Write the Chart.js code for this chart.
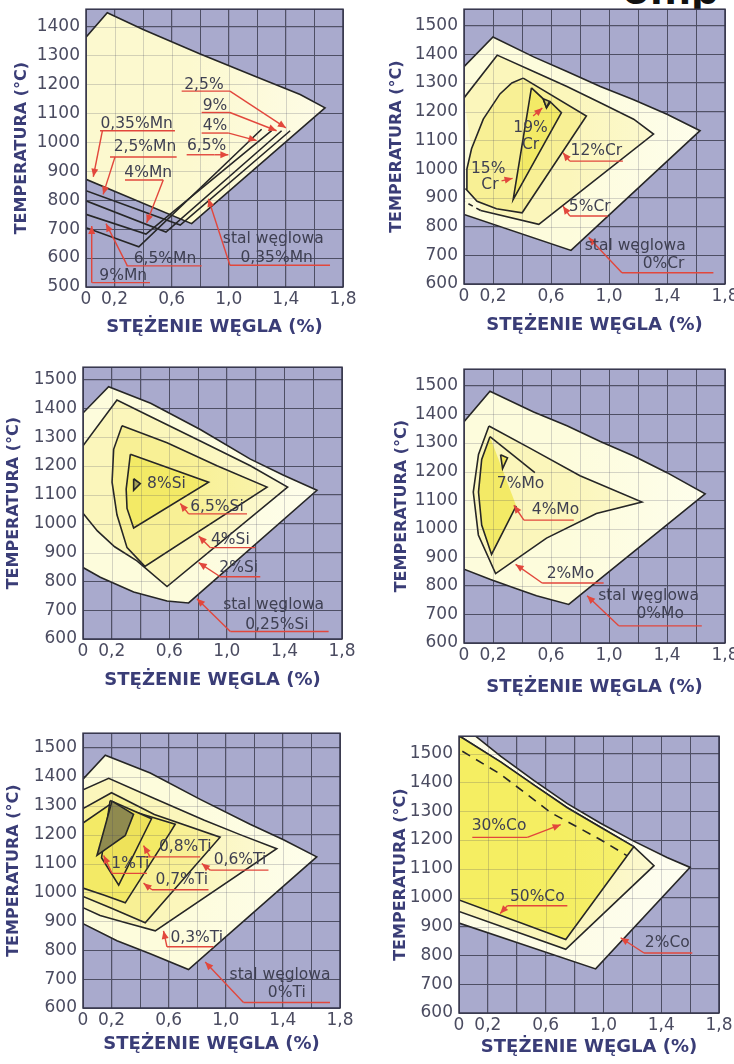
<!DOCTYPE html>
<html lang="pl">
<head>
<meta charset="utf-8">
<title>Wpływ pierwiastków stopowych na obszar austenitu</title>
<script src="https://cdn.jsdelivr.net/npm/chart.js@4.4.1/dist/chart.umd.min.js"></script>
<style>
  html, body { margin: 0; padding: 0; background: #fff; }
  #sheet { position: relative; width: 734px; height: 1064px; overflow: hidden; background: #fff; }
  #sheet canvas { position: absolute; }
  #heading {
    position: absolute; left: 622px; top: -38px; margin: 0;
    font: bold 46px "Liberation Sans", Arial, sans-serif; color: #111; line-height: 52px;
    white-space: nowrap;
  }
</style>
</head>
<body>
<div id="sheet"><p id="heading">omp</p></div>
<script>
// ---------- shared axes ----------
const carbonGrid = [0, 0.2, 0.4, 0.6, 0.8, 1.0, 1.2, 1.4, 1.6, 1.8];
const carbonTicks = [0, 0.2, 0.6, 1.0, 1.4, 1.8];

// ---------- manganese (C %, T °C) ----------
const mnSteel = [[0,1363],[0.149,1448],[0.4,1390],[0.8,1305],[1.2,1225],[1.5,1165],[1.674,1119],[0.74,719],[0,872]];
const mn25 = [[0,833],[0.66,714],[1.43,1040]];
const mn4  = [[0,798],[0.56,690],[1.37,1040]];
const mn65 = [[0,751],[0.42,683],[1.30,1040]];
const mn9  = [[0,705],[0.37,639],[1.23,1045]];

// ---------- chromium ----------
const crSteel = [[0,1357],[0.20,1460],[0.48,1391],[0.71,1340],[0.94,1288],[1.17,1242],[1.40,1191],[1.628,1134],[0.738,717],[0,842]];
const cr5  = [[0,1248],[0.229,1397],[0.48,1340],[0.71,1288],[0.94,1231],[1.17,1174],[1.307,1122],[0.516,808],[0.115,856],[0,888]];
const cr12 = [[0.408,1317],[0.844,1185],[0.401,848],[0.224,862],[0.09,888],[0.015,930],[0.02,1000],[0.052,1071],[0.133,1174],[0.248,1262],[0.33,1300]];
const cr15 = [[0.465,1283],[0.546,1245],[0.569,1214],[0.596,1234],[0.672,1197],[0.339,894]];
const cr19 = [[0.546,1245],[0.59,1236],[0.569,1214]];

// ---------- silicon ----------
const siSteel = [[0,1384],[0.178,1475],[0.47,1418],[0.815,1327],[1.163,1224],[1.394,1168],[1.626,1116],[0.734,725],[0.584,732],[0.352,763],[0.12,814],[0,848]];
const si2  = [[0,1270],[0.236,1429],[0.468,1372],[0.815,1287],[1.163,1201],[1.422,1127],[0.584,782],[0.375,871],[0.22,920],[0.10,975],[0,1036]];
const si4  = [[0.271,1340],[0.584,1281],[0.931,1201],[1.279,1127],[0.43,852],[0.306,917],[0.236,1031],[0.202,1144],[0.213,1258]];
const si65 = [[0.329,1241],[0.873,1144],[0.352,985],[0.306,1053],[0.30,1120],[0.317,1190]];
const si8  = [[0.352,1156],[0.398,1139],[0.352,1116]];

// ---------- molybdenum ----------
const moSteel = [[0,1374],[0.179,1481],[0.48,1408],[0.71,1360],[0.94,1305],[1.17,1254],[1.40,1196],[1.663,1122],[0.722,735],[0.50,765],[0.367,789],[0.183,822],[0,858]];
const mo2 = [[0.172,1359],[0.454,1282],[0.80,1185],[1.227,1093],[0.913,1053],[0.569,967],[0.218,843],[0.099,978],[0.064,1128],[0.10,1260]];
const mo4 = [[0.179,1322],[0.489,1196],[0.36,1080],[0.19,910],[0.122,1013],[0.10,1128],[0.122,1242]];
const mo7 = [[0.252,1259],[0.30,1248],[0.266,1210]];

// ---------- titanium ----------
const tiSteel = [[0,1392],[0.156,1475],[0.471,1413],[0.821,1322],[1.17,1236],[1.404,1182],[1.637,1123],[0.739,733],[0.471,788],[0.238,833],[0,892]];
const ti03 = [[0,1355],[0.18,1395],[0.5,1325],[0.85,1250],[1.1,1200],[1.357,1151],[0.506,867],[0.3,895],[0.12,920],[0,947]];
const ti06 = [[0,1290],[0.2,1345],[0.5,1270],[0.96,1191],[0.436,895],[0.2,945],[0,986]];
const ti07 = [[0,1240],[0.19,1305],[0.45,1265],[0.646,1236],[0.611,1208],[0.296,964],[0.15,990],[0,1015]];
const ti08 = [[0.19,1318],[0.48,1255],[0.25,1025],[0.13,1120]];
const ti1  = [[0.203,1316],[0.354,1270],[0.296,1197],[0.098,1128]];

// ---------- cobalt ----------
const coSteel  = [[0,1560],[0.115,1560],[0.29,1490],[0.52,1406],[0.75,1326],[0.98,1258],[1.21,1196],[1.44,1139],[1.60,1105],[0.946,753],[0,912]];
const coMid    = [[0,1560],[0.03,1552],[0.29,1470],[0.52,1390],[0.75,1312],[0.98,1244],[1.21,1177],[1.35,1111],[0.739,821],[0,952]];
const coYellow = [[0,1560],[0.03,1552],[0.29,1470],[0.52,1390],[0.75,1312],[0.98,1244],[1.21,1177],[0.739,855],[0,992]];
const co30     = [[0.023,1508],[0.288,1428],[0.635,1295],[0.98,1201],[1.165,1145]];

// ---------- styling ----------
const PLOT_BG = '#a9aacd';
const GRID = '#515266';
const EDGE = '#262626';
const RED = '#e2473c';
const INK = '#3f4052';
const TITLE = '#3a3d77';
const TICK = '#4a4b60';
const shade = ['#fdfcdc', '#fbf6bb', '#f8f095', '#f3ea66', '#eee25a'];
const olive = '#8f8a4f';

function mixWhite(hex, k) {
  const n = parseInt(hex.slice(1), 16);
  const c = [(n >> 16) & 255, (n >> 8) & 255, n & 255].map(v => Math.round(v + (255 - v) * k));
  return `rgb(${c[0]},${c[1]},${c[2]})`;
}
function fillStyle(base, fade) {
  return (c) => {
    const a = c.chart.chartArea;
    if (!a) return base;
    const g = c.chart.ctx.createLinearGradient(a.left, 0, a.right, 0);
    g.addColorStop(0, base);
    g.addColorStop(0.4, base);
    g.addColorStop(1, mixWhite(base, fade));
    return g;
  };
}
const pts = (arr, close) => {
  const d = arr.map(([x, y]) => ({ x, y }));
  if (close) d.push({ x: arr[0][0], y: arr[0][1] });
  return d;
};

// background, overlay grid, frame and red call-outs
function panelDecor(items) {
  return {
    id: 'panelDecor',
    beforeDraw(chart) {
      const { ctx, chartArea: a } = chart;
      ctx.save();
      ctx.fillStyle = PLOT_BG;
      ctx.fillRect(a.left, a.top, a.width, a.height);
      ctx.restore();
    },
    afterDatasetsDraw(chart) {
      const { ctx, chartArea: a, scales: { x, y } } = chart;
      ctx.save();
      ctx.beginPath(); ctx.rect(a.left, a.top, a.width, a.height); ctx.clip();
      ctx.strokeStyle = 'rgba(70,70,95,0.22)';
      ctx.lineWidth = 1;
      for (const t of x.ticks) {
        const px = Math.round(x.getPixelForValue(t.value)) + 0.5;
        ctx.beginPath(); ctx.moveTo(px, a.top); ctx.lineTo(px, a.bottom); ctx.stroke();
      }
      for (const t of y.ticks) {
        const py = Math.round(y.getPixelForValue(t.value)) + 0.5;
        ctx.beginPath(); ctx.moveTo(a.left, py); ctx.lineTo(a.right, py); ctx.stroke();
      }
      ctx.restore();

      ctx.save();
      ctx.strokeStyle = '#34344a'; ctx.lineWidth = 1.5;
      ctx.strokeRect(a.left, a.top, a.width, a.height);
      ctx.restore();

      ctx.save();
      ctx.lineWidth = 1.4;
      ctx.strokeStyle = RED; ctx.fillStyle = RED;
      const X = v => x.getPixelForValue(v), Y = v => y.getPixelForValue(v);
      for (const n of items) {
        if (n.u) {
          ctx.beginPath(); ctx.moveTo(X(n.u[0]), Y(n.u[2])); ctx.lineTo(X(n.u[1]), Y(n.u[2])); ctx.stroke();
        }
        if (n.a) {
          const x0 = X(n.a[0][0]), y0 = Y(n.a[0][1]), x1 = X(n.a[1][0]), y1 = Y(n.a[1][1]);
          ctx.beginPath(); ctx.moveTo(x0, y0); ctx.lineTo(x1, y1); ctx.stroke();
          const ang = Math.atan2(y1 - y0, x1 - x0), L = 8, W = 3.5;
          ctx.beginPath();
          ctx.moveTo(x1, y1);
          ctx.lineTo(x1 - L * Math.cos(ang) + W * Math.sin(ang), y1 - L * Math.sin(ang) - W * Math.cos(ang));
          ctx.lineTo(x1 - L * Math.cos(ang) - W * Math.sin(ang), y1 - L * Math.sin(ang) + W * Math.cos(ang));
          ctx.closePath(); ctx.fill();
        }
      }
      ctx.font = '15.5px "DejaVu Sans"';
      ctx.textAlign = 'center'; ctx.textBaseline = 'middle';
      ctx.fillStyle = INK;
      for (const n of items) for (const [s, tx, ty] of n.t) ctx.fillText(s, X(tx), Y(ty));
      ctx.restore();
    }
  };
}

const panels = [
  { // Mn
    l: 86, r: 343, t: 5, b: 287, ymin: 500, ymax: 1460, W: 76, H: 53,
    areas: [{ pts: mnSteel, color: '#fcf9cf', fade: 0.55 }],
    lines: [{ pts: mn25 }, { pts: mn4 }, { pts: mn65 }, { pts: mn9 }],
    notes: [
      { t: [['2,5%', 0.826, 1199]], u: [0.67, 1.008, 1177], a: [[1.008, 1177], [1.40, 1050]] },
      { t: [['9%', 0.903, 1125]], u: [0.81, 1.008, 1103], a: [[1.008, 1103], [1.335, 1040]] },
      { t: [['4%', 0.903, 1057]], u: [0.81, 1.0, 1032], a: [[1.0, 1032], [1.195, 1006]] },
      { t: [['6,5%', 0.845, 989]], u: [0.705, 0.9, 957], a: [[0.9, 957], [0.997, 957]] },
      { t: [['0,35%Mn', 0.355, 1063]], u: [0.098, 0.623, 1040], a: [[0.115, 1040], [0.051, 881]] },
      { t: [['2,5%Mn', 0.413, 983]], u: [0.168, 0.635, 949], a: [[0.203, 949], [0.12, 820]] },
      { t: [['4%Mn', 0.436, 893]], u: [0.273, 0.541, 870], a: [[0.541, 870], [0.425, 722]] },
      { t: [['6,5%Mn', 0.553, 598]], u: [0.285, 0.81, 573], a: [[0.29, 573], [0.14, 719]] },
      { t: [['9%Mn', 0.261, 537]], u: [0.043, 0.448, 515], a: [[0.04, 515], [0.04, 711]] },
      { t: [['stal węglowa', 1.312, 666], ['0,35%Mn', 1.335, 601]], u: [1.008, 1.709, 575], a: [[1.008, 575], [0.857, 805]] }
    ]
  },
  { // Cr
    l: 464, r: 725, t: 5, b: 284, ymin: 600, ymax: 1557, W: 79, H: 54,
    areas: [
      { pts: crSteel, color: shade[0], fade: 0.5 },
      { pts: cr5, color: shade[1], fade: 0.5, dash: 8 },
      { pts: cr12, color: shade[2], fade: 0.3 },
      { pts: cr15, color: shade[3], fade: 0.2 },
      { pts: cr19, color: '#c9c36a', fade: 0 }
    ],
    notes: [
      { t: [['19%', 0.459, 1142], ['Cr', 0.459, 1085]], a: [[0.477, 1185], [0.54, 1213]] },
      { t: [['15%', 0.167, 1002], ['Cr', 0.179, 945]], a: [[0.259, 959], [0.335, 968]] },
      { t: [['12%Cr', 0.913, 1062]], u: [0.729, 1.096, 1028], a: [[0.729, 1028], [0.683, 1057]] },
      { t: [['5%Cr', 0.867, 869]], u: [0.729, 0.99, 837], a: [[0.729, 837], [0.683, 871]] },
      { t: [['stal węglowa', 1.181, 734], ['0%Cr', 1.376, 671]], u: [1.089, 1.72, 639], a: [[1.089, 639], [0.86, 762]] }
    ]
  },
  { // Si
    l: 83, r: 342, t: 363, b: 639, ymin: 600, ymax: 1543, W: 81, H: 54,
    areas: [
      { pts: siSteel, color: shade[0], fade: 0.5 },
      { pts: si2, color: shade[1], fade: 0.5 },
      { pts: si4, color: shade[2], fade: 0.4 },
      { pts: si65, color: shade[3], fade: 0.3 },
      { pts: si8, color: '#a8a35a', fade: 0 }
    ],
    notes: [
      { t: [['8%Si', 0.58, 1139]] },
      { t: [['6,5%Si', 0.931, 1059]], u: [0.734, 1.14, 1034], a: [[0.734, 1034], [0.676, 1070]] },
      { t: [['4%Si', 1.024, 943]], u: [0.885, 1.198, 917], a: [[0.885, 917], [0.804, 957]] },
      { t: [['2%Si', 1.082, 845]], u: [0.954, 1.232, 816], a: [[0.954, 816], [0.804, 865]] },
      { t: [['stal węglowa', 1.325, 717], ['0,25%Si', 1.348, 649]], u: [1.024, 1.707, 626], a: [[1.024, 626], [0.792, 740]] }
    ]
  },
  { // Mo
    l: 464, r: 725, t: 365, b: 643, ymin: 600, ymax: 1558, W: 74, H: 57,
    areas: [
      { pts: moSteel, color: shade[0], fade: 0.5 },
      { pts: mo2, color: shade[1], fade: 0.5 },
      { pts: mo4, color: shade[3], fade: 0.3, gap: 1 },
      { pts: mo7, color: '#efe45c', fade: 0 }
    ],
    notes: [
      { t: [['7%Mo', 0.39, 1156]] },
      { t: [['4%Mo', 0.631, 1064]], u: [0.413, 0.757, 1030], a: [[0.413, 1030], [0.344, 1082]] },
      { t: [['2%Mo', 0.734, 841]], u: [0.539, 0.963, 810], a: [[0.539, 810], [0.356, 875]] },
      { t: [['stal węglowa', 1.273, 766], ['0%Mo', 1.353, 703]], u: [1.067, 1.64, 660], a: [[1.067, 660], [0.849, 765]] }
    ]
  },
  { // Ti
    l: 83, r: 340, t: 729, b: 1008, ymin: 600, ymax: 1551, W: 81, H: 49,
    areas: [
      { pts: tiSteel, color: shade[0], fade: 0.5 },
      { pts: ti03, color: shade[1], fade: 0.6 },
      { pts: ti06, color: shade[2], fade: 0.5 },
      { pts: ti07, color: shade[3], fade: 0.4 },
      { pts: ti08, color: shade[4], fade: 0.2 },
      { pts: ti1, color: olive, fade: 0 }
    ],
    notes: [
      { t: [['0,8%Ti', 0.716, 1157]], u: [0.424, 0.821, 1123], a: [[0.47, 1123], [0.424, 1162]] },
      { t: [['0,6%Ti', 1.10, 1111]], u: [0.891, 1.299, 1077], a: [[0.891, 1077], [0.832, 1100]] },
      { t: [['1%Ti', 0.331, 1100]], u: [0.203, 0.448, 1066], a: [[0.203, 1066], [0.145, 1128]] },
      { t: [['0,7%Ti', 0.692, 1043]], u: [0.483, 0.879, 1009], a: [[0.483, 1009], [0.424, 1032]] },
      { t: [['0,3%Ti', 0.797, 842]], u: [0.588, 0.914, 812], a: [[0.588, 812], [0.564, 867]] },
      { t: [['stal węglowa', 1.38, 714], ['0%Ti', 1.427, 651]], u: [1.124, 1.73, 619], a: [[1.124, 619], [0.856, 759]] }
    ]
  },
  { // Co
    l: 459, r: 719, t: 732, b: 1013, ymin: 600, ymax: 1560, W: 70, H: 47,
    areas: [
      { pts: coSteel, color: '#fdfce6', fade: 0.5 },
      { pts: coMid, color: shade[1], fade: 0.5 },
      { pts: coYellow, color: '#f5ee62', fade: 0.15 }
    ],
    lines: [{ pts: co30, dash: [9, 7] }],
    notes: [
      { t: [['30%Co', 0.277, 1247]], u: [0.092, 0.473, 1209], a: [[0.473, 1209], [0.704, 1253]] },
      { t: [['50%Co', 0.542, 1003]], u: [0.335, 0.75, 972], a: [[0.335, 972], [0.285, 945]] },
      { t: [['2%Co', 1.442, 844]], u: [1.281, 1.615, 808], a: [[1.281, 808], [1.119, 861]] }
    ]
  }
];

const sheet = document.getElementById('sheet');
const fmtCarbon = v => (v === 0 ? '0' : v.toFixed(1).replace('.', ','));

function buildPanel(p) {
  const padT = 12, padR = 16;
  const w = p.r - p.l + p.W + padR;
  const h = p.b - p.t + padT + p.H;
  const cv = document.createElement('canvas');
  cv.width = w; cv.height = h;
  cv.style.left = (p.l - p.W) + 'px';
  cv.style.top = (p.t - padT) + 'px';
  cv.style.width = w + 'px'; cv.style.height = h + 'px';
  sheet.appendChild(cv);

  const datasets = [];
  p.areas.forEach((ar, i) => {
    datasets.push({
      data: pts(ar.pts, true),
      showLine: true,
      fill: 'shape',
      backgroundColor: fillStyle(ar.color, ar.fade),
      borderColor: EDGE,
      borderWidth: 1.6,
      pointRadius: 0,
      pointHoverRadius: 0,
      tension: 0,
      order: 100 - i,
      segment: {
        borderDash: s => (ar.dash === s.p0DataIndex ? [5, 4] : undefined),
        borderColor: s => (ar.gap === s.p0DataIndex ? 'rgba(0,0,0,0)' : undefined)
      }
    });
  });
  (p.lines || []).forEach(ln => datasets.push({
    data: pts(ln.pts, false),
    showLine: true,
    fill: false,
    borderColor: EDGE,
    borderWidth: 1.6,
    borderDash: ln.dash || [],
    pointRadius: 0,
    pointHoverRadius: 0,
    order: 0
  }));

  new Chart(cv, {
    type: 'scatter',
    data: { datasets },
    plugins: [panelDecor(p.notes)],
    options: {
      responsive: false,
      animation: false,
      devicePixelRatio: 1,
      events: [],
      layout: { padding: { top: padT, right: padR, left: 0, bottom: 0 } },
      plugins: { legend: { display: false }, tooltip: { enabled: false } },
      scales: {
        x: {
          type: 'linear', min: 0, max: 1.8,
          afterBuildTicks: s => { s.ticks = carbonGrid.map(v => ({ value: v })); },
          afterFit: s => { s.height = p.H; },
          grid: { color: GRID, lineWidth: 1, drawTicks: false },
          border: { display: false },
          ticks: {
            autoSkip: false, maxRotation: 0, padding: 2, color: TICK,
            font: { family: 'DejaVu Sans', size: 17 },
            callback: v => (carbonTicks.includes(v) ? fmtCarbon(v) : '')
          },
          title: {
            display: true, text: 'STĘŻENIE WĘGLA (%)', color: TITLE,
            font: { family: 'DejaVu Sans', size: 18, weight: 'bold' },
            padding: { top: 0, bottom: 2 }
          }
        },
        y: {
          type: 'linear', min: p.ymin, max: p.ymax,
          afterFit: s => { s.width = p.W; },
          grid: { color: GRID, lineWidth: 1, drawTicks: false },
          border: { display: false },
          ticks: {
            stepSize: 100, includeBounds: false, autoSkip: false, padding: 6, color: TICK,
            font: { family: 'DejaVu Sans', size: 17 },
            callback: v => String(v)
          },
          title: {
            display: true, text: 'TEMPERATURA (°C)', color: TITLE,
            font: { family: 'DejaVu Sans', size: 16, weight: 'bold' },
            padding: { top: 2, bottom: 0 }
          }
        }
      }
    }
  });
}

panels.forEach(buildPanel);
</script>
</body>
</html>
